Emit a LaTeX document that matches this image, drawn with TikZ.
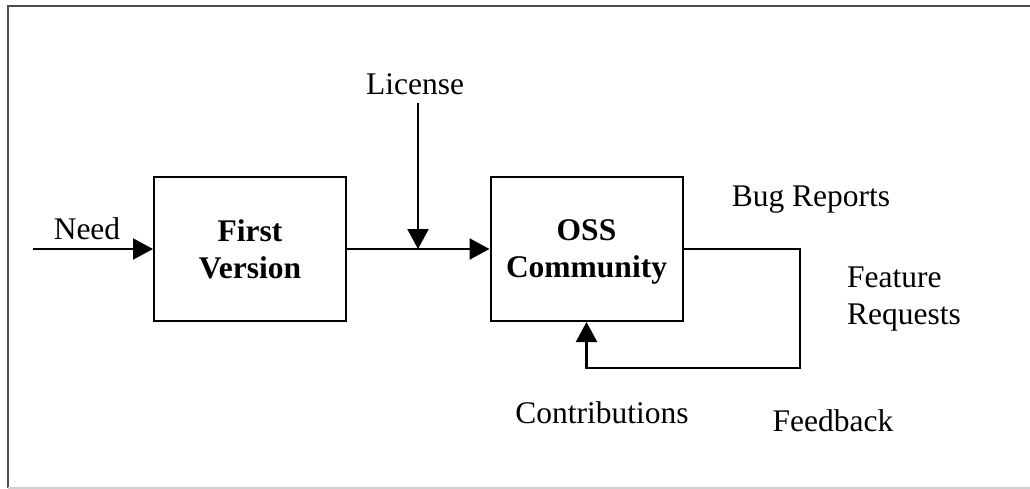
\documentclass[tikz,border=0pt]{standalone}
\usepackage{fontspec}
\setmainfont{Liberation Serif}
\usetikzlibrary{arrows.meta}
\begin{document}
\begin{tikzpicture}[x=1pt,y=-1pt,
  lbl/.style={font=\fontsize{31.5}{37}\selectfont, inner sep=0pt, anchor=base},
  blk/.style={draw, line width=2pt, minimum width=192pt, minimum height=144pt,
    align=center, font=\fontsize{31.5}{37}\selectfont\bfseries, inner sep=0pt, text depth=0pt},
  flow/.style={line width=2.2pt, -{Triangle[length=20pt,width=21pt]}},
  framedark/.style={black!70, line width=2pt},
  framelight/.style={black!18, line width=1.5pt},
]
\useasboundingbox (0,0) rectangle (1030,489);
\coordinate (fTL) at (8,6.5);
\coordinate (fTR) at (1030,6.5);
\coordinate (fBL) at (8,488);
\coordinate (fBR) at (1030,488);
\draw[framedark] (fTR) -- (fTL) -- (fBL);
\draw[framelight] (fBL) -- (fBR);

\node[blk] (fv) at (250,249) {First\\Version};
\node[blk] (oss) at (586.5,249) {OSS\\Community};

\coordinate (needstart) at (33,249);
\coordinate (lic) at (418,103);
\coordinate (licend) at (418,249);
\coordinate (loopA) at (800,249);
\coordinate (loopB) at (800,368);
\coordinate (loopC) at (586.5,368);

\draw[flow] (needstart) -- (fv.west);
\draw[flow] (fv.east) -- (oss.west);
\draw[flow] (lic) -- (licend);
\draw[flow] (oss.east) -- (loopA) -- (loopB) -- (loopC) -- (oss.south);

\node[lbl] (need) at (87,239) {Need};
\node[lbl] (license) at (415,95) {License};
\node[lbl] (bug) at (811,207) {Bug Reports};
\node[lbl, anchor=north west, align=left] (feat) at (847,267) {Feature\\Requests};
\node[lbl] (contrib) at (602,423) {Contributions};
\node[lbl] (feedback) at (833,431) {Feedback};
\end{tikzpicture}
\end{document}
